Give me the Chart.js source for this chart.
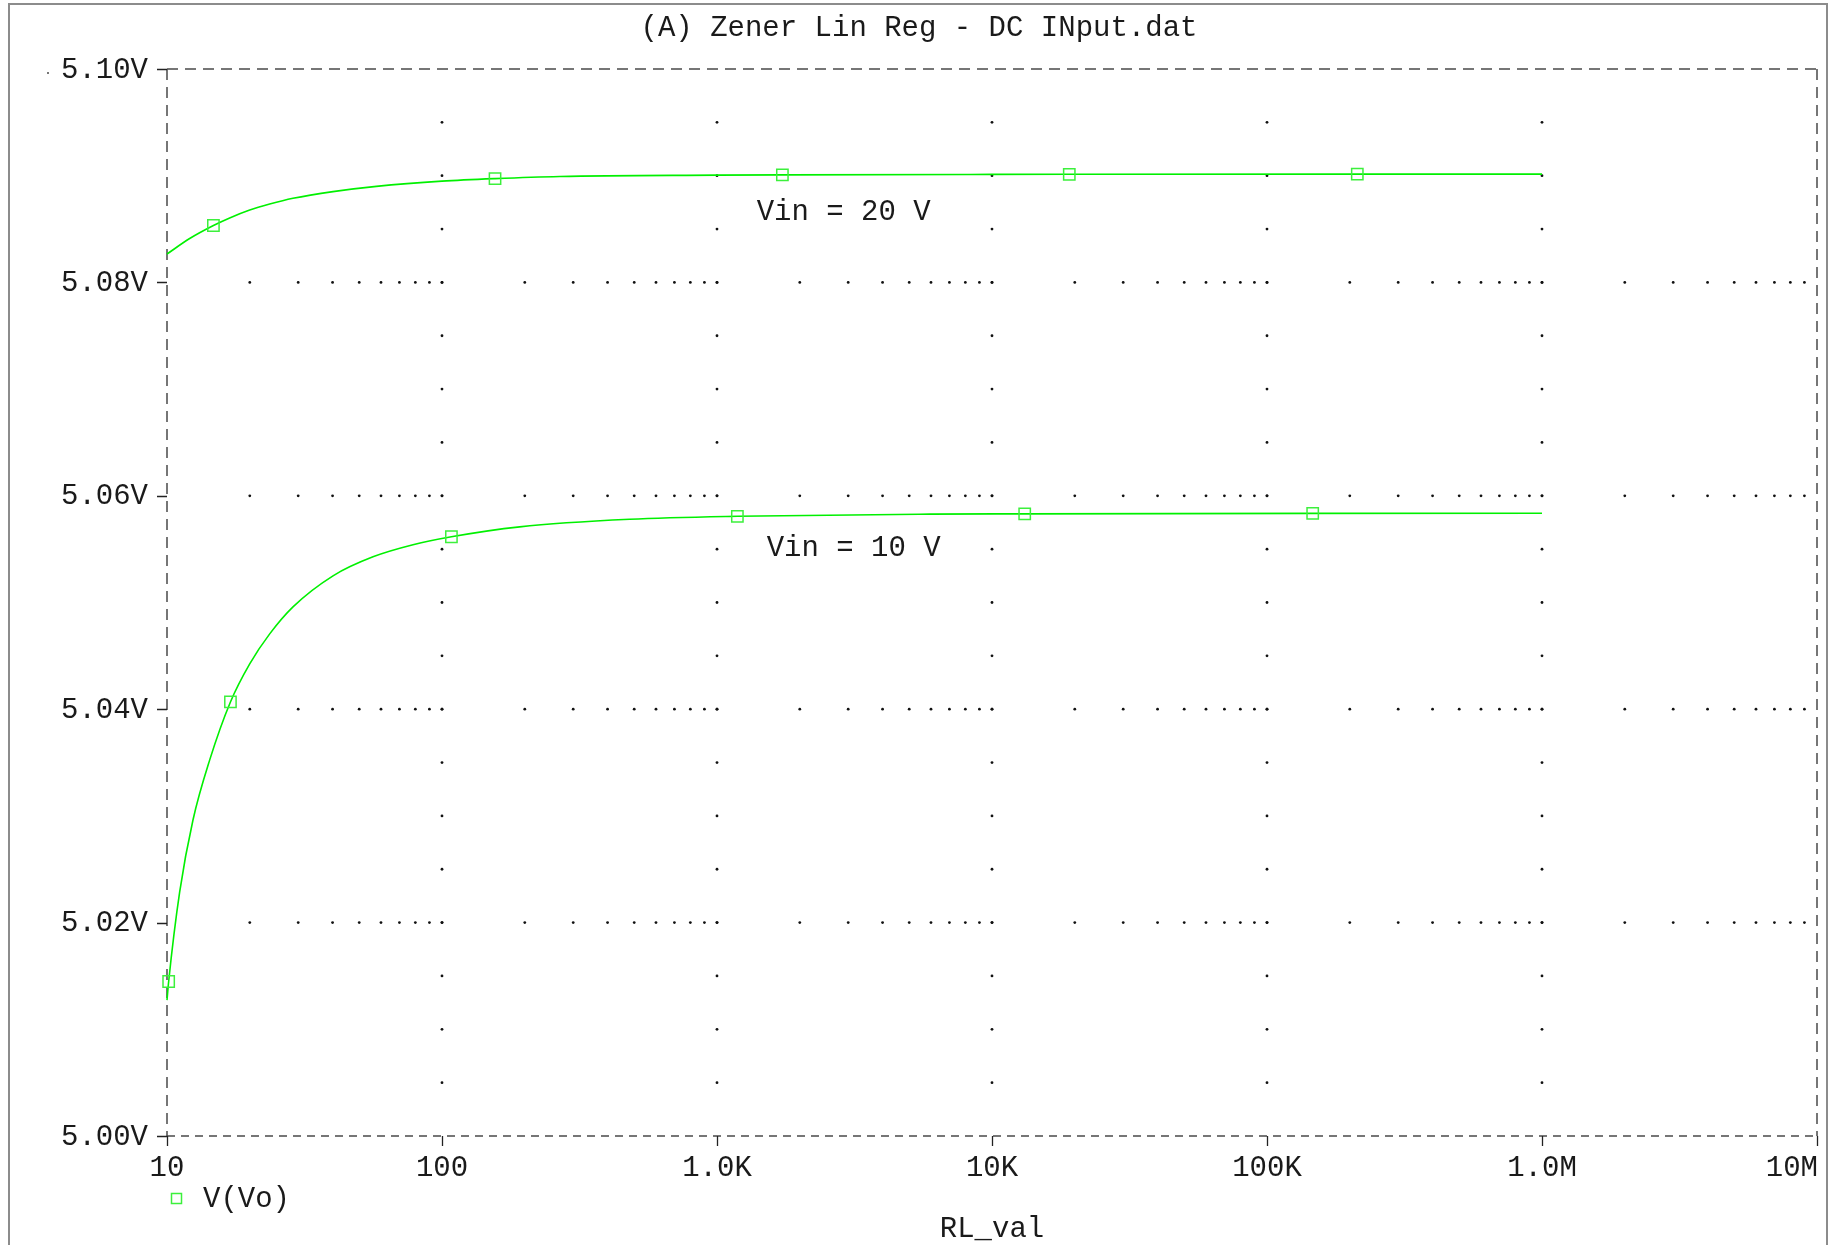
<!DOCTYPE html>
<html lang="en">
<head>
<meta charset="UTF-8">
<title>Zener Lin Reg - DC INput</title>
<script src="https://cdn.jsdelivr.net/npm/chart.js"></script>
<style>
    html, body {
        margin: 0;
        padding: 0;
        background: #fff;
    }
    #wrap {
        width: 1843px;
        height: 1245px;
        position: relative;
    }
</style>
</head>
<body>
<div id="wrap"><canvas id="plot" width="1843" height="1245"></canvas></div>
<script>
// RL sweep (ohms) and V(Vo) for Vin = 20 V
const rl20 = [10, 12.09, 14.75, 16.9, 19.99, 23.63, 28.72, 40.15, 57.72, 100, 155.9, 267.9, 1000, 1729, 10000, 19100, 213000, 1000000];
const vo20 = [5.08266, 5.08411, 5.08533, 5.08604, 5.08678, 5.08734, 5.08788, 5.08851, 5.08900, 5.08949, 5.08973, 5.08993, 5.09005, 5.09008, 5.09012, 5.09013, 5.09015, 5.09015];
const marks20 = [2, 10, 13, 15, 16];

// RL sweep (ohms) and V(Vo) for Vin = 10 V
const rl10 = [10, 10.14, 11.12, 12.43, 14.3, 17.01, 19.99, 23.63, 28.72, 40.15, 56.11, 78.44, 108.2, 191.7, 481.5, 1186, 5934, 13150, 146600, 1000000];
const vo10 = [5.01274, 5.01448, 5.02287, 5.02962, 5.03525, 5.04068, 5.04425, 5.04706, 5.04959, 5.05250, 5.05428, 5.05541, 5.05616, 5.05709, 5.05780, 5.05808, 5.05828, 5.05831, 5.05835, 5.05836];
const marks10 = [1, 5, 12, 15, 17, 18];

// axis ticks
const xTicks = [10, 100, 1000, 10000, 100000, 1000000, 10000000];
const xTickLabels = ['10', '100', '1.0K', '10K', '100K', '1.0M', '10M'];
const yTicks = [5.00, 5.02, 5.04, 5.06, 5.08, 5.10];
const yTickLabels = ['5.00V', '5.02V', '5.04V', '5.06V', '5.08V', '5.10V'];

const titleText = '(A) Zener Lin Reg - DC INput.dat';
const xTitle = 'RL_val';
const legendText = 'V(Vo)';
const curveNotes = [
    { text: 'Vin = 20 V', rl: 1394, v: 5.08588 },
    { text: 'Vin = 10 V', rl: 1516, v: 5.05437 }
];

const GREEN = '#00f000';
const MARK = '#3cf03c';
const FONT = '29px "Liberation Mono", "DejaVu Sans Mono", monospace';

function toPoints(xs, ys) {
    return xs.map((v, i) => ({ x: v, y: ys[i] }));
}

// only every few sweep points carry a marker
function markerRadius(list) {
    return ctx => list.includes(ctx.dataIndex) ? 8 : 0;
}

// dotted grid, dashed frame, tick marks and all the text
const probePlot = {
    id: 'probePlot',
    beforeDatasetsDraw(chart) {
        const { ctx, chartArea: a, scales: { x, y } } = chart;
        ctx.save();

        // window border
        ctx.strokeStyle = '#8c8c8c';
        ctx.lineWidth = 2;
        ctx.strokeRect(9, 4, 1818, 1270);

        // stray dot left of the top label
        ctx.fillStyle = '#777';
        ctx.fillRect(47, 72, 2, 2);

        ctx.fillStyle = '#111';
        const dot = (px, py) => {
            ctx.beginPath();
            ctx.arc(px, py, 1.4, 0, Math.PI * 2);
            ctx.fill();
        };

        // horizontal dotted lines: a dot on every log minor position
        yTicks.slice(1, -1).forEach(v => {
            const py = y.getPixelForValue(v);
            for (let k = 1; k <= 6; k++) {
                for (let m = 1; m <= 9; m++) {
                    const r = m * Math.pow(10, k);
                    if (r <= xTicks[0]) continue;
                    dot(x.getPixelForValue(r), py);
                }
            }
        });

        // vertical dotted lines at each decade, a dot every 5 mV
        xTicks.slice(1, -1).forEach(r => {
            const px = x.getPixelForValue(r);
            for (let i = 1; i < 20; i++) {
                dot(px, y.getPixelForValue(5.0 + i * 0.005));
            }
        });

        // dashed frame
        ctx.strokeStyle = '#4a4a4a';
        ctx.lineWidth = 1.5;
        ctx.setLineDash([11, 7]);
        ctx.beginPath();
        ctx.moveTo(a.left, a.top);
        ctx.lineTo(a.right, a.top);
        ctx.moveTo(a.left, a.top);
        ctx.lineTo(a.left, a.bottom);
        ctx.moveTo(a.right, a.top);
        ctx.lineTo(a.right, a.bottom);
        ctx.stroke();
        ctx.setLineDash([8, 6]);
        ctx.beginPath();
        ctx.moveTo(a.left, a.bottom);
        ctx.lineTo(a.right, a.bottom);
        ctx.stroke();
        ctx.setLineDash([]);

        // tick marks
        ctx.strokeStyle = '#222';
        ctx.lineWidth = 1.3;
        ctx.beginPath();
        yTicks.forEach(v => {
            const py = Math.round(y.getPixelForValue(v)) + 0.5;
            ctx.moveTo(a.left - 10, py);
            ctx.lineTo(a.left, py);
        });
        xTicks.forEach(r => {
            const px = Math.round(x.getPixelForValue(r)) + 0.5;
            ctx.moveTo(px, a.bottom);
            ctx.lineTo(px, a.bottom + 10);
        });
        ctx.stroke();
        ctx.restore();
    },
    afterDraw(chart) {
        const { ctx, chartArea: a, scales: { x, y } } = chart;
        ctx.save();
        ctx.font = FONT;
        ctx.fillStyle = '#1a1a1a';
        ctx.textBaseline = 'alphabetic';

        // title
        ctx.textAlign = 'center';
        ctx.fillText(titleText, 919, 36);

        // y labels
        ctx.textAlign = 'right';
        yTicks.forEach((v, i) => {
            ctx.fillText(yTickLabels[i], 148, y.getPixelForValue(v) + 8.5);
        });

        // x labels, the last one kept inside the frame
        xTicks.forEach((r, i) => {
            const px = x.getPixelForValue(r);
            if (i === xTicks.length - 1) {
                ctx.textAlign = 'right';
                ctx.fillText(xTickLabels[i], a.right + 1, 1176);
            } else {
                ctx.textAlign = 'center';
                ctx.fillText(xTickLabels[i], px, 1176);
            }
        });

        // x axis title
        ctx.textAlign = 'center';
        ctx.fillText(xTitle, 992, 1237);

        // curve notes
        ctx.textAlign = 'left';
        curveNotes.forEach(n => {
            ctx.fillText(n.text, x.getPixelForValue(n.rl), y.getPixelForValue(n.v));
        });

        // trace legend
        ctx.fillText(legendText, 203, 1207);
        ctx.strokeStyle = MARK;
        ctx.lineWidth = 1.5;
        ctx.strokeRect(171.5, 1193.5, 10, 10);
        ctx.restore();
    }
};

const traceStyle = {
    borderColor: GREEN,
    borderWidth: 1.6,
    cubicInterpolationMode: 'monotone',
    pointStyle: 'rect',
    pointBorderColor: MARK,
    pointBorderWidth: 1.5,
    pointBackgroundColor: 'rgba(0,0,0,0)',
    fill: false,
    clip: 10
};

const chart = new Chart(document.getElementById('plot'), {
    type: 'line',
    data: {
        datasets: [
            Object.assign({
                label: 'Vin = 20 V',
                data: toPoints(rl20, vo20),
                pointRadius: markerRadius(marks20)
            }, traceStyle),
            Object.assign({
                label: 'Vin = 10 V',
                data: toPoints(rl10, vo10),
                pointRadius: markerRadius(marks10)
            }, traceStyle)
        ]
    },
    options: {
        responsive: false,
        animation: false,
        layout: {
            padding: { left: 167, right: 26, top: 69, bottom: 109 }
        },
        plugins: {
            legend: { display: false },
            tooltip: { enabled: false }
        },
        scales: {
            x: { type: 'logarithmic', min: 10, max: 10000000, display: false },
            y: { type: 'linear', min: 5.0, max: 5.1, display: false }
        }
    },
    plugins: [probePlot]
});
</script>
</body>
</html>
